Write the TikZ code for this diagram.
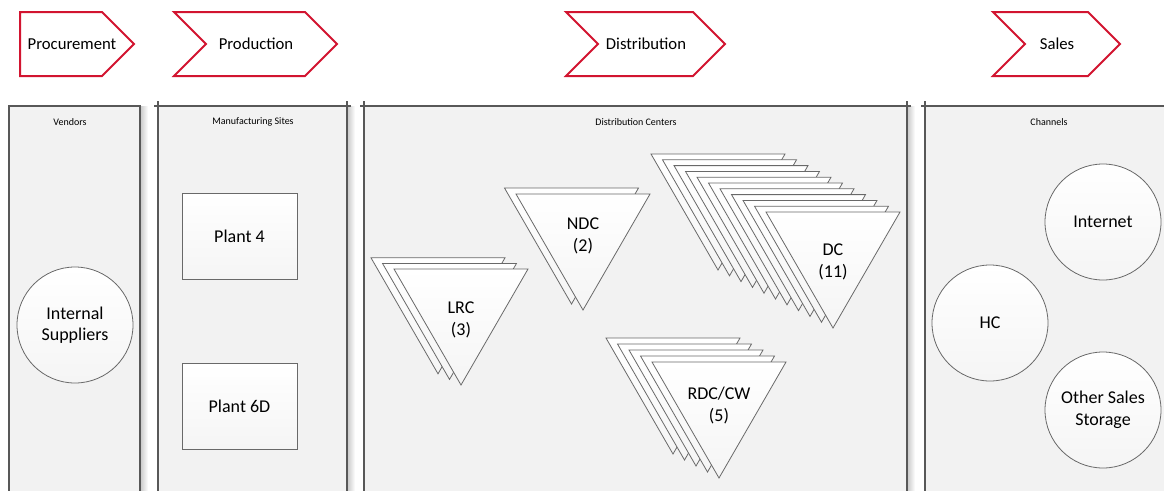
\documentclass[tikz,border=0pt]{standalone}
\usepackage{fontspec}
\setmainfont{Carlito}
\definecolor{chevred}{RGB}{210,20,48}
\definecolor{panelfill}{RGB}{242,242,242}
\definecolor{panelline}{RGB}{88,88,88}
\definecolor{shapeline}{RGB}{105,105,105}

\begin{document}
\begin{tikzpicture}[x=1pt,y=-1pt,
  chev/.style={draw=chevred, line width=2pt, fill=white, line join=miter},
  chevtext/.style={font=\fontsize{16.7}{20}\selectfont, inner sep=0pt},
  panelbg/.style={fill=panelfill},
  pline/.style={draw=panelline, line width=1.3pt},
  pshadow/.style={left color=black!22, right color=white},
  paneltitle/.style={font=\fontsize{10}{12}\selectfont, inner sep=0pt},
  softfill/.style={top color=white, bottom color=black!4},
  circ/.style={circle, minimum size=116pt, inner sep=0pt, draw=shapeline, line width=0.8pt,
               softfill, align=center, font=\fontsize{18}{21.5}\selectfont},
  plant/.style={rectangle, minimum width=115pt, minimum height=86pt, draw=shapeline,
                line width=0.9pt, softfill, font=\fontsize{18}{21.5}\selectfont},
  tri/.style={draw=shapeline, line width=0.8pt, softfill, line join=miter},
  tritext/.style={align=center, inner sep=0pt, font=\fontsize{18}{22}\selectfont}
]
\useasboundingbox (0,0) rectangle (1164,490);
\fill[white] (0,0) rectangle (1164,490);
\clip (0,0) rectangle (1164,490);

% ---- process chevrons ----
\draw[chev] (20,12) -- (102,12) -- (134,44) -- (102,76) -- (20,76) -- cycle;
\draw[chev] (174,12) -- (305,12) -- (337,44) -- (305,76) -- (174,76) -- (206,44) -- cycle;
\draw[chev] (566,12) -- (693,12) -- (725,44) -- (693,76) -- (566,76) -- (598,44) -- cycle;
\draw[chev] (993,12) -- (1088,12) -- (1120,44) -- (1088,76) -- (993,76) -- (1025,44) -- cycle;
\node[chevtext] (procurement) at (72,44) {Procurement};
\node[chevtext] (production) at (256,44) {Production};
\node[chevtext] (distribution) at (646,44) {Distribution};
\node[chevtext] (sales) at (1057,44) {Sales};

% ---- swimlane panels ----
% soft shadows on the right edges
\shade[pshadow] (140,106) rectangle (148,500);
\shade[pshadow] (347,106) rectangle (355,500);
\shade[pshadow] (907,106) rectangle (915,500);
% vendors
\fill[panelbg] (9,106) rectangle (140,500);
\draw[pline] (9,500) -- (9,106) -- (140,106) -- (140,500);
% manufacturing sites
\fill[panelbg] (158,106) rectangle (347,500);
\draw[pline] (154,106) -- (351,106);
\draw[pline] (158,101) -- (158,500);
\draw[pline] (347,101) -- (347,500);
% distribution centers
\fill[panelbg] (364,106) rectangle (907,500);
\draw[pline] (360,106) -- (911,106);
\draw[pline] (364,101) -- (364,500);
\draw[pline] (907,101) -- (907,500);
% channels
\fill[panelbg] (925,106) rectangle (1180,500);
\draw[pline] (921,106) -- (1180,106);
\draw[pline] (925,101) -- (925,500);

\node[paneltitle] (vendors) at (70,122) {Vendors};
\node[paneltitle] (mfg) at (253,122) {Manufacturing Sites};
\node[paneltitle] (dcs) at (636,122) {Distribution Centers};
\node[paneltitle] (channels) at (1049,122) {Channels};

% ---- vendors ----
\node[circ] (suppliers) at (75,325) {Internal\\Suppliers};

% ---- plants ----
\node[plant] (plant4) at (239.5,236) {Plant 4};
\node[plant] (plant6d) at (239.5,406.5) {Plant 6D};

% ---- distribution center stacks ----
\foreach \i in {2,1,0}{
  \path[tri] ({394-11.5*\i},{269-5.6*\i}) -- ++(134,0) -- ++(-67,116) -- cycle;
}
\foreach \i in {1,0}{
  \path[tri] ({516-11.5*\i},{194-6*\i}) -- ++(134,0) -- ++(-67,116) -- cycle;
}
\foreach \i in {10,9,...,0}{
  \path[tri] ({766-11.5*\i},{212-5.8*\i}) -- ++(134,0) -- ++(-67,116) -- cycle;
}
\foreach \i in {4,3,...,0}{
  \path[tri] ({652-11.5*\i},{362-6*\i}) -- ++(134,0) -- ++(-67,116) -- cycle;
}
\node[tritext] (lrc) at (461,320) {LRC\\(3)};
\node[tritext] (ndc) at (583,236) {NDC\\(2)};
\node[tritext] (dc) at (833,262) {DC\\(11)};
\node[tritext] (rdc) at (719,405) {RDC/CW\\(5)};

% ---- sales channels ----
\node[circ] (internet) at (1103,222) {Internet};
\node[circ] (hc) at (990,323) {HC};
\node[circ] (other) at (1103,410) {Other Sales\\Storage};
\end{tikzpicture}
\end{document}
